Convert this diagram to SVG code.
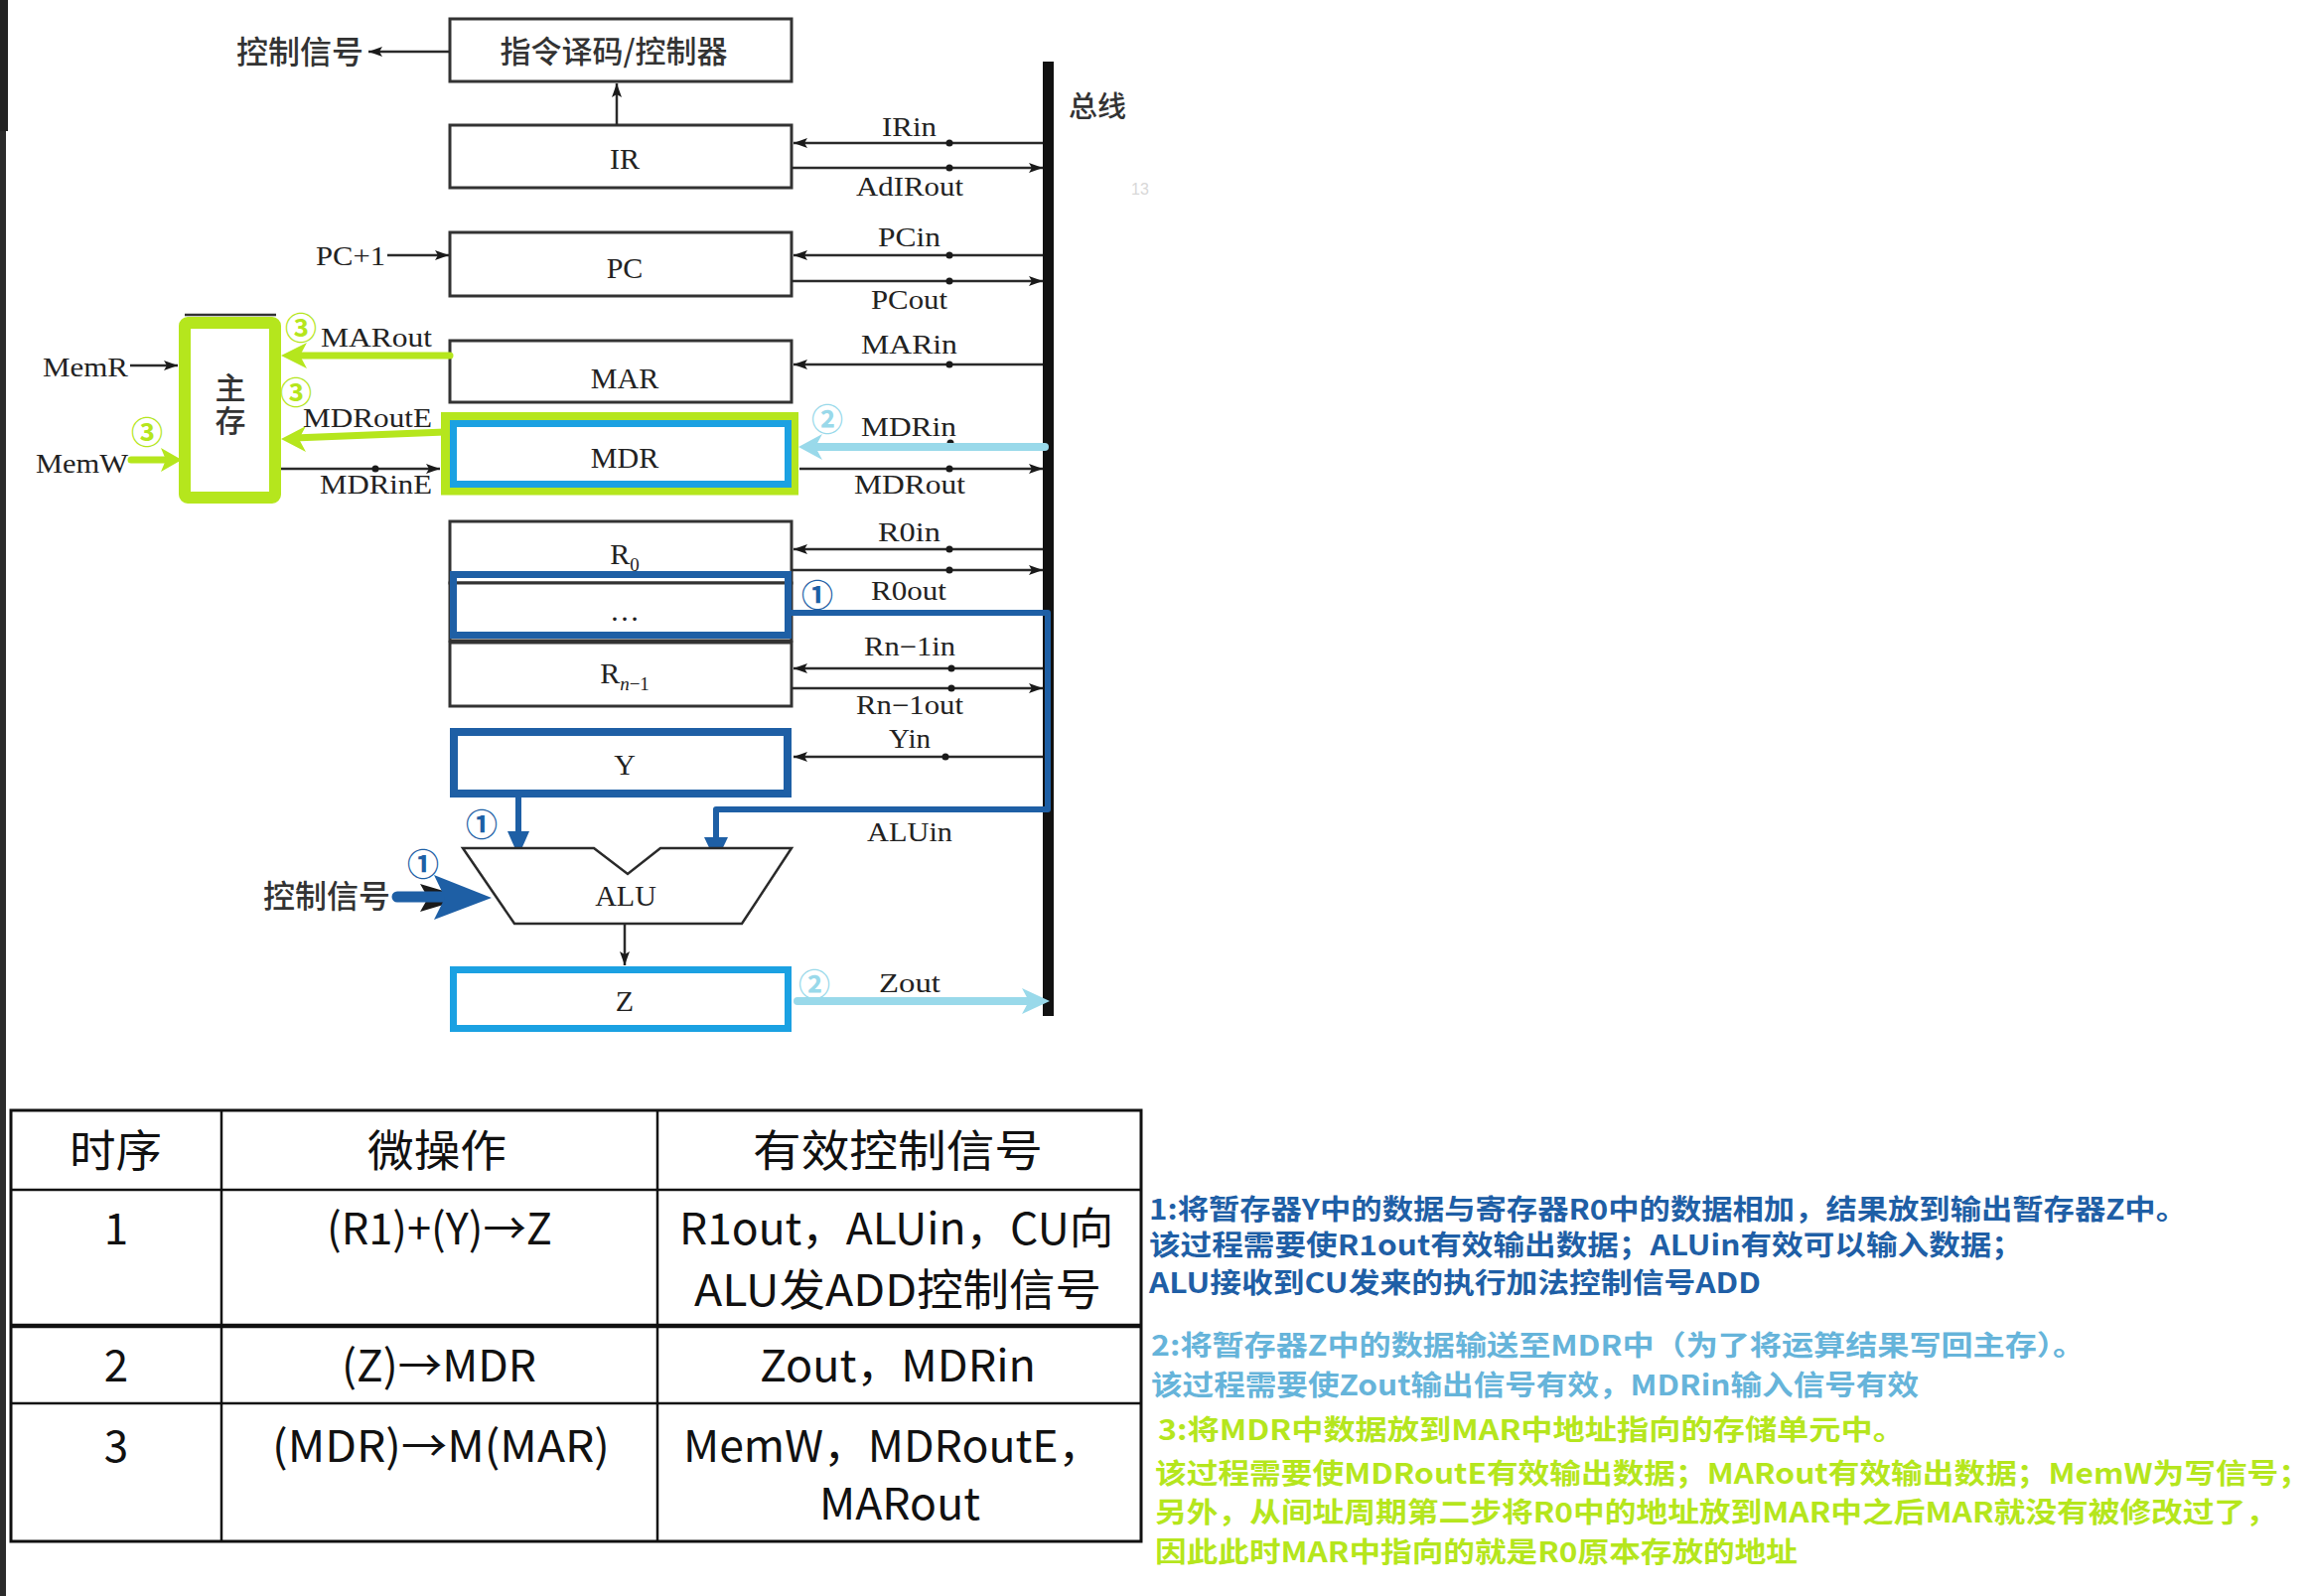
<svg xmlns="http://www.w3.org/2000/svg" width="2328" height="1607" viewBox="0 0 2328 1607">
<defs>
<style>
.lbl{font-family:'Liberation Serif','Noto Sans CJK SC',serif;font-size:27px;fill:#222}
.bt{font-family:'Liberation Serif','Noto Sans CJK SC',serif;font-size:30px;fill:#222;text-anchor:middle}
.cjk{font-family:'Noto Sans CJK SC',sans-serif;font-weight:500;fill:#333}
.box{fill:#fff;stroke:#333;stroke-width:3}
.ln{stroke:#2a2a2a;stroke-width:2.5;fill:none}
.dot{fill:#1a1a1a}
.tb{font-family:'Noto Sans CJK SC',sans-serif;font-size:44px;fill:#111}
.note{font-family:'Noto Sans CJK SC',sans-serif;font-size:28px;font-weight:700}
.cn{font-family:'Noto Sans CJK SC',sans-serif;font-size:32px;font-weight:700;text-anchor:middle;dominant-baseline:central}
.db{stroke:#1e5fa5;stroke-width:6;fill:none;stroke-linejoin:round}
.dbf{fill:#1e5fa5}
.gr{stroke:#b5e61d;stroke-width:7;fill:none;stroke-linecap:round}
.grf{fill:#b5e61d}
.lb{stroke:#99d9ea;stroke-width:8;fill:none;stroke-linecap:round}
.lbf{fill:#99d9ea}
.tl{stroke:#111;stroke-width:2.5;fill:none}
</style>
<marker id="ah" viewBox="0 0 14 10" refX="14" refY="5" markerWidth="14" markerHeight="10" markerUnits="userSpaceOnUse" orient="auto"><path d="M0,0 L14,5 L0,10 L3,5 z" fill="#1a1a1a"/></marker>
</defs>
<rect width="2328" height="1607" fill="#fff"/>
<rect x="0" y="0" width="6" height="1607" fill="#2b2b2b"/>
<rect x="0" y="0" width="8" height="132" fill="#222"/>
<text x="1139" y="196" font-family="'Liberation Sans',sans-serif" font-size="16" fill="#d8d8d8">13</text>

<g id="bus">
<rect x="1050" y="62" width="11" height="961" fill="#111"/>
<text x="1076" y="118" class="cjk" font-size="29">总线</text>
</g>

<g id="controller">
<rect class="box" x="453" y="19" width="344" height="63"/>
<text x="618" y="63" class="cjk" font-size="31" text-anchor="middle">指令译码/控制器</text>
</g>
<g id="ctrl-out"><text x="238" y="64" class="cjk" font-size="32">控制信号</text></g>

<g id="IR"><rect class="box" x="453" y="126" width="344" height="63"/><text class="bt" x="629" y="170">IR</text></g>
<g id="PC"><rect class="box" x="453" y="234" width="344" height="64"/><text class="bt" x="629" y="280">PC</text></g>
<g id="MAR"><rect class="box" x="453" y="343" width="344" height="62"/><text class="bt" x="629" y="391">MAR</text></g>
<g id="R0"><rect class="box" x="453" y="525" width="344" height="62"/><text class="bt" x="629" y="568">R<tspan font-size="19" dy="7">0</tspan></text></g>
<g id="Rdots"><rect class="box" x="453" y="587" width="344" height="58"/><text class="bt" x="629" y="625">…</text></g>
<g id="Rn1"><rect class="box" x="453" y="647" width="344" height="64"/><text class="bt" x="629" y="688">R<tspan font-size="19" dy="7" font-style="italic">n</tspan><tspan font-size="19">−1</tspan></text></g>

<g id="connectors">
<path class="ln" d="M453 52 H371" marker-end="url(#ah)"/>
<path class="ln" d="M621 126 V84" marker-end="url(#ah)"/>
<path class="ln" d="M1050 144 H799" marker-end="url(#ah)"/>
<path class="ln" d="M797 169 H1050" marker-end="url(#ah)"/>
<path class="ln" d="M390 257 H452" marker-end="url(#ah)"/>
<path class="ln" d="M1050 257 H799" marker-end="url(#ah)"/>
<path class="ln" d="M797 283 H1050" marker-end="url(#ah)"/>
<path class="ln" d="M1050 367 H799" marker-end="url(#ah)"/>
<path class="ln" d="M805 472 H1050" marker-end="url(#ah)"/>
<path class="ln" d="M1050 553 H799" marker-end="url(#ah)"/>
<path class="ln" d="M797 574 H1050" marker-end="url(#ah)"/>
<path class="ln" d="M1050 673 H799" marker-end="url(#ah)"/>
<path class="ln" d="M797 693 H1050" marker-end="url(#ah)"/>
<path class="ln" d="M1050 762 H799" marker-end="url(#ah)"/>
<path class="ln" d="M131 368 H179" marker-end="url(#ah)"/>
<path class="ln" d="M283 472 H443" marker-end="url(#ah)"/>
<path class="ln" d="M629 930 V972" marker-end="url(#ah)"/>
<circle class="dot" cx="956" cy="144" r="3.5"/><circle class="dot" cx="956" cy="169" r="3.5"/>
<circle class="dot" cx="956" cy="257" r="3.5"/><circle class="dot" cx="956" cy="283" r="3.5"/>
<circle class="dot" cx="956" cy="367" r="3.5"/><circle class="dot" cx="957" cy="446" r="3.5"/>
<circle class="dot" cx="956" cy="472" r="3.5"/><circle class="dot" cx="956" cy="553" r="3.5"/>
<circle class="dot" cx="956" cy="574" r="3.5"/><circle class="dot" cx="958" cy="673" r="3.5"/>
<circle class="dot" cx="958" cy="693" r="3.5"/><circle class="dot" cx="952" cy="762" r="3.5"/>
<circle class="dot" cx="378" cy="472" r="3.5"/>
<polygon points="423,890 470,904 423,918 431,904" fill="#1a1a1a"/>

<path class="gr" d="M453 358 H296"/>
<polygon class="grf" points="283,358 309,345 302,358 309,371"/>
<path class="gr" d="M448 435 L296 441"/>
<polygon class="grf" points="283,442 308,429 301,442 308,455"/>
<path class="gr" d="M132 463 H168"/>
<polygon class="grf" points="183,463 162,451 167,463 162,475"/>

<path class="lb" d="M1052 450 H820"/>
<polygon class="lbf" points="804,450 828,437 821,450 828,463"/>
<path class="lb" d="M803 1008 H1040"/>
<polygon class="lbf" points="1057,1008 1029,995 1036,1008 1029,1021"/>

<path class="db" d="M795 617 H1055 V815 H721 V845"/>
<polygon class="dbf" points="709,843 733,843 721,868"/>
<path class="db" d="M522 803 V840"/>
<polygon class="dbf" points="511,837 533,837 522,862"/>
<path d="M400 903 H468" stroke="#1e5fa5" stroke-width="11" stroke-linecap="round"/>
<polygon class="dbf" points="437,881 495,904 437,926 448,904"/>
</g>

<g id="memory">
<line x1="186" y1="317" x2="278" y2="317" stroke="#333" stroke-width="2.5"/>
<rect x="186" y="325" width="91" height="176" rx="3" fill="#fff" stroke="#b5e61d" stroke-width="12"/>
<text x="232" y="408" class="cjk" font-size="31" text-anchor="middle" writing-mode="vertical-rl" letter-spacing="2">主存</text>
</g>

<g id="MDR">
<rect x="448.5" y="419.5" width="351" height="74.5" fill="#fff" stroke="#b5e61d" stroke-width="9"/>
<rect x="456.5" y="426.5" width="337" height="61" fill="none" stroke="#1ba1e2" stroke-width="7"/>
<text class="bt" x="629" y="471">MDR</text>
</g>

<g id="R-highlight"><rect x="456.5" y="578.5" width="337" height="61" fill="none" stroke="#1e5fa5" stroke-width="7"/></g>

<g id="Y"><rect x="457" y="737" width="336" height="62" fill="#fff" stroke="#1e5fa5" stroke-width="8"/><text class="bt" x="629" y="780">Y</text></g>

<g id="ALU"><polygon points="466,854 598,854 632,880 665,854 797,854 747,930 518,930" fill="#fff" stroke="#2a2a2a" stroke-width="2.5" stroke-linejoin="miter"/><text class="bt" x="630" y="912">ALU</text></g>
<g id="ctrl-in"><text x="265" y="914" class="cjk" font-size="32">控制信号</text></g>

<g id="Z"><rect x="456.5" y="976.5" width="337" height="59" fill="#fff" stroke="#1ba1e2" stroke-width="7"/><text class="bt" x="629" y="1018">Z</text></g>

<g id="labels">
<text class="lbl" x="888" y="137" textLength="55" lengthAdjust="spacingAndGlyphs">IRin</text>
<text class="lbl" x="862" y="197" textLength="108" lengthAdjust="spacingAndGlyphs">AdIRout</text>
<text class="lbl" x="884" y="248" textLength="63" lengthAdjust="spacingAndGlyphs">PCin</text>
<text class="lbl" x="877" y="311" textLength="77" lengthAdjust="spacingAndGlyphs">PCout</text>
<text class="lbl" x="867" y="356" textLength="97" lengthAdjust="spacingAndGlyphs">MARin</text>
<text class="lbl" x="867" y="439" textLength="96" lengthAdjust="spacingAndGlyphs">MDRin</text>
<text class="lbl" x="860" y="497" textLength="112" lengthAdjust="spacingAndGlyphs">MDRout</text>
<text class="lbl" x="884" y="545" textLength="63" lengthAdjust="spacingAndGlyphs">R0in</text>
<text class="lbl" x="877" y="604" textLength="76" lengthAdjust="spacingAndGlyphs">R0out</text>
<text class="lbl" x="870" y="660" textLength="92" lengthAdjust="spacingAndGlyphs">Rn−1in</text>
<text class="lbl" x="862" y="719" textLength="108" lengthAdjust="spacingAndGlyphs">Rn−1out</text>
<text class="lbl" x="895" y="753" textLength="42" lengthAdjust="spacingAndGlyphs">Yin</text>
<text class="lbl" x="873" y="847" textLength="86" lengthAdjust="spacingAndGlyphs">ALUin</text>
<text class="lbl" x="885" y="999" textLength="62" lengthAdjust="spacingAndGlyphs">Zout</text>
<text class="lbl" x="323" y="349" textLength="112" lengthAdjust="spacingAndGlyphs">MARout</text>
<text class="lbl" x="305" y="430" textLength="130" lengthAdjust="spacingAndGlyphs">MDRoutE</text>
<text class="lbl" x="322" y="497" textLength="113" lengthAdjust="spacingAndGlyphs">MDRinE</text>
<text class="lbl" x="43" y="379" textLength="86" lengthAdjust="spacingAndGlyphs">MemR</text>
<text class="lbl" x="36" y="476" textLength="93" lengthAdjust="spacingAndGlyphs">MemW</text>
<text class="lbl" x="318" y="267" textLength="70" lengthAdjust="spacingAndGlyphs">PC+1</text>
</g>

<g id="step-marks">
<text class="cn" x="303" y="328" fill="#b5e61d">③</text>
<text class="cn" x="298" y="393" fill="#b5e61d">③</text>
<text class="cn" x="148" y="433" fill="#b5e61d">③</text>
<text class="cn" x="833" y="420" fill="#99d9ea">②</text>
<text class="cn" x="820" y="989" fill="#99d9ea">②</text>
<text class="cn" x="823" y="597" fill="#1e5fa5">①</text>
<text class="cn" x="485" y="828" fill="#1e5fa5">①</text>
<text class="cn" x="426" y="868" fill="#1e5fa5">①</text>
</g>

<g id="table">
<rect x="11" y="1118" width="1138" height="434" fill="#fff" stroke="#111" stroke-width="3"/>
<line class="tl" x1="11" y1="1198" x2="1149" y2="1198"/>
<line x1="11" y1="1335" x2="1149" y2="1335" stroke="#111" stroke-width="4.5"/>
<line class="tl" x1="11" y1="1413" x2="1149" y2="1413" stroke-width="3"/>
<line class="tl" x1="223" y1="1118" x2="223" y2="1552"/>
<line class="tl" x1="662" y1="1118" x2="662" y2="1552"/>
<text class="tb" x="70" y="1175" textLength="93" lengthAdjust="spacingAndGlyphs">时序</text>
<text class="tb" x="370" y="1175" textLength="140" lengthAdjust="spacingAndGlyphs">微操作</text>
<text class="tb" x="758" y="1175" textLength="292" lengthAdjust="spacingAndGlyphs">有效控制信号</text>
<text class="tb" x="117" y="1253" text-anchor="middle">1</text>
<text class="tb" x="329" y="1253" textLength="227" lengthAdjust="spacingAndGlyphs">(R1)+(Y)→Z</text>
<text class="tb" x="684" y="1253" textLength="437" lengthAdjust="spacingAndGlyphs">R1out，ALUin，CU向</text>
<text class="tb" x="699" y="1315" textLength="410" lengthAdjust="spacingAndGlyphs">ALU发ADD控制信号</text>
<text class="tb" x="117" y="1391" text-anchor="middle">2</text>
<text class="tb" x="344" y="1391" textLength="196" lengthAdjust="spacingAndGlyphs">(Z)→MDR</text>
<text class="tb" x="765" y="1391" textLength="278" lengthAdjust="spacingAndGlyphs">Zout，MDRin</text>
<text class="tb" x="117" y="1472" text-anchor="middle">3</text>
<text class="tb" x="274" y="1472" textLength="340" lengthAdjust="spacingAndGlyphs">(MDR)→M(MAR)</text>
<text class="tb" x="688" y="1472" textLength="422" lengthAdjust="spacingAndGlyphs">MemW，MDRoutE，</text>
<text class="tb" x="825" y="1530" textLength="162" lengthAdjust="spacingAndGlyphs">MARout</text>
</g>

<g id="notes">
<text class="note" fill="#1f5fa6" x="1157" y="1228" textLength="1045" lengthAdjust="spacingAndGlyphs">1:将暂存器Y中的数据与寄存器R0中的数据相加，结果放到输出暂存器Z中。</text>
<text class="note" fill="#1f5fa6" x="1157" y="1264" textLength="880" lengthAdjust="spacingAndGlyphs">该过程需要使R1out有效输出数据；ALUin有效可以输入数据；</text>
<text class="note" fill="#1f5fa6" x="1157" y="1302" textLength="616" lengthAdjust="spacingAndGlyphs">ALU接收到CU发来的执行加法控制信号ADD</text>
<text class="note" fill="#66b4da" x="1159" y="1365" textLength="940" lengthAdjust="spacingAndGlyphs">2:将暂存器Z中的数据输送至MDR中（为了将运算结果写回主存）。</text>
<text class="note" fill="#66b4da" x="1159" y="1405" textLength="773" lengthAdjust="spacingAndGlyphs">该过程需要使Zout输出信号有效，MDRin输入信号有效</text>
<text class="note" fill="#b5e61d" x="1166" y="1450" textLength="752" lengthAdjust="spacingAndGlyphs">3:将MDR中数据放到MAR中地址指向的存储单元中。</text>
<text class="note" fill="#b5e61d" x="1163" y="1494" textLength="1163" lengthAdjust="spacingAndGlyphs">该过程需要使MDRoutE有效输出数据；MARout有效输出数据；MemW为写信号；</text>
<text class="note" fill="#b5e61d" x="1163" y="1533" textLength="1130" lengthAdjust="spacingAndGlyphs">另外，从间址周期第二步将R0中的地址放到MAR中之后MAR就没有被修改过了，</text>
<text class="note" fill="#b5e61d" x="1163" y="1573" textLength="647" lengthAdjust="spacingAndGlyphs">因此此时MAR中指向的就是R0原本存放的地址</text>
</g>
</svg>
